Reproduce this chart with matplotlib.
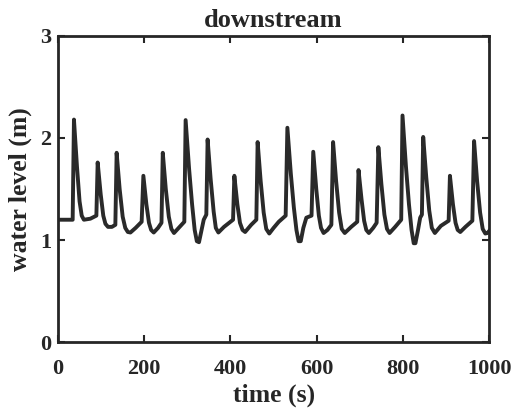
import matplotlib
matplotlib.use("Agg")
import matplotlib.pyplot as plt

# downstream water level
time_s = [0, 34, 37, 44, 50, 55, 60, 75, 89,
          92, 99, 105, 110, 116, 125, 133,
          136, 143, 150, 156, 162, 168, 180, 194,
          198, 205, 211, 216, 222, 232, 240,
          243, 250, 257, 263, 269, 280, 293,
          296, 304, 311, 317, 322, 327, 333, 338, 344,
          347, 354, 361, 366, 372, 385, 406,
          409, 416, 422, 428, 434, 448, 460,
          463, 470, 477, 483, 490, 500, 512, 528,
          532, 540, 547, 553, 558, 563, 569, 576, 588,
          592, 599, 605, 610, 616, 625, 634,
          638, 645, 652, 658, 665, 680, 694,
          697, 704, 710, 715, 721, 731, 739,
          743, 750, 757, 763, 769, 782, 796,
          799, 807, 814, 820, 825, 829, 835, 840, 844,
          847, 854, 861, 867, 874, 888, 906,
          909, 916, 922, 927, 933, 945, 961,
          965, 972, 979, 985, 991, 996, 1000]
level_m = [1.2, 1.2, 2.18, 1.72, 1.38, 1.24, 1.2, 1.21, 1.24,
           1.76, 1.45, 1.24, 1.16, 1.13, 1.13, 1.15,
           1.855, 1.5, 1.23, 1.12, 1.08, 1.075, 1.12, 1.18,
           1.63, 1.35, 1.17, 1.1, 1.075, 1.12, 1.17,
           1.855, 1.5, 1.23, 1.11, 1.07, 1.12, 1.18,
           2.175, 1.7, 1.35, 1.1, 0.99, 0.98, 1.1, 1.2, 1.25,
           1.985, 1.6, 1.28, 1.12, 1.075, 1.13, 1.2,
           1.63, 1.35, 1.17, 1.1, 1.08, 1.15, 1.2,
           1.96, 1.58, 1.27, 1.11, 1.065, 1.12, 1.18, 1.24,
           2.10, 1.65, 1.32, 1.1, 0.99, 0.99, 1.12, 1.22, 1.24,
           1.865, 1.5, 1.24, 1.12, 1.07, 1.1, 1.15,
           1.96, 1.58, 1.27, 1.11, 1.07, 1.13, 1.18,
           1.686, 1.4, 1.19, 1.1, 1.07, 1.12, 1.17,
           1.91, 1.55, 1.25, 1.11, 1.07, 1.13, 1.2,
           2.22, 1.72, 1.35, 1.1, 0.97, 0.97, 1.1, 1.22, 1.25,
           2.01, 1.62, 1.29, 1.12, 1.07, 1.14, 1.19,
           1.63, 1.35, 1.17, 1.1, 1.08, 1.13, 1.19,
           1.97, 1.58, 1.27, 1.11, 1.065, 1.07, 1.09]

x_ticks = [0, 200, 400, 600, 800, 1000]
y_ticks = [0, 1, 2, 3]

plt.rcParams['font.family'] = ['Liberation Serif', 'DejaVu Serif']
plt.rcParams['font.weight'] = 'bold'

fig = plt.figure(figsize=(5.16, 4.16), dpi=100)
ax = fig.add_axes([0.1124, 0.177, 0.8356, 0.737])

ax.plot(time_s, level_m, color='#2a2a2a', linewidth=2.8, solid_joinstyle='round')

ax.set_xlim(0, 1000)
ax.set_ylim(0, 3)
ax.set_xticks(x_ticks)
ax.set_yticks(y_ticks)
ax.tick_params(direction='in', top=True, right=True, length=5, width=1.5,
               labelsize=16, colors='#262626')
ax.tick_params(axis='x', pad=12)
ax.tick_params(axis='y', pad=5)
for lbl in ax.get_xticklabels() + ax.get_yticklabels():
    lbl.set_fontweight('bold')
for sp in ax.spines.values():
    sp.set_linewidth(2)
    sp.set_color('#262626')

ax.set_title('downstream', fontsize=19, fontweight='bold', color='#262626', pad=6)
ax.set_xlabel('time (s)', fontsize=18.5, fontweight='bold', color='#262626', labelpad=3)
ax.set_ylabel('water level (m)', fontsize=18.5, fontweight='bold', color='#262626', labelpad=6)

fig.savefig('out.png', dpi=100)
